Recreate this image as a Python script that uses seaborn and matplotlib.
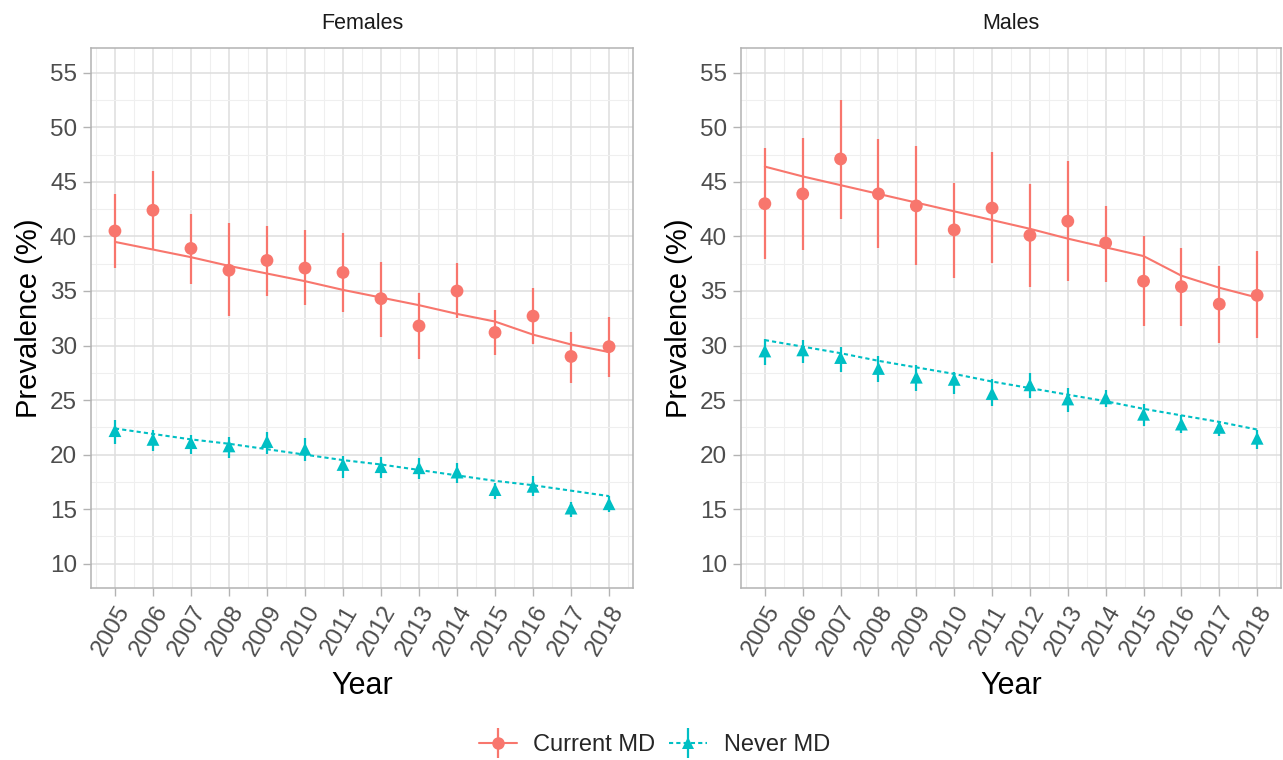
import numpy as np
import pandas as pd
import matplotlib
matplotlib.use("Agg")
import matplotlib.pyplot as plt
from matplotlib.lines import Line2D
from matplotlib.legend_handler import HandlerTuple
from matplotlib.ticker import MultipleLocator
import seaborn as sns

years = list(range(2005, 2019))

# Females
f_cur = [40.5, 42.4, 38.9, 36.9, 37.8, 37.1, 36.7, 34.3, 31.8, 35.0, 31.2, 32.7, 29.0, 29.9]
f_cur_lo = [37.1, 38.8, 35.6, 32.7, 34.5, 33.7, 33.1, 30.8, 28.8, 32.5, 29.1, 30.1, 26.6, 27.1]
f_cur_hi = [43.9, 46.0, 42.1, 41.2, 41.0, 40.6, 40.3, 37.7, 34.8, 37.6, 33.3, 35.3, 31.2, 32.6]
f_cur_fit = [39.5, 38.8, 38.1, 37.3, 36.6, 35.9, 35.1, 34.4, 33.7, 32.9, 32.2, 31.0, 30.1, 29.4]

f_nev = [22.2, 21.4, 21.1, 20.8, 21.2, 20.5, 19.1, 18.9, 18.8, 18.4, 16.8, 17.1, 15.1, 15.5]
f_nev_lo = [21.0, 20.3, 20.1, 19.7, 20.1, 19.4, 17.9, 17.9, 17.8, 17.4, 15.9, 16.2, 14.3, 14.7]
f_nev_hi = [23.2, 22.3, 21.8, 21.6, 22.1, 21.5, 19.9, 19.8, 19.7, 19.2, 17.4, 18.0, 15.7, 16.2]
f_nev_fit = [22.4, 21.9, 21.4, 21.0, 20.5, 20.0, 19.5, 19.1, 18.6, 18.1, 17.6, 17.2, 16.7, 16.2]

# Males
m_cur = [43.0, 43.9, 47.1, 43.9, 42.8, 40.6, 42.6, 40.1, 41.4, 39.4, 35.9, 35.4, 33.8, 34.6]
m_cur_lo = [37.9, 38.8, 41.6, 38.9, 37.4, 36.2, 37.6, 35.4, 35.9, 35.8, 31.8, 31.8, 30.2, 30.7]
m_cur_hi = [48.1, 49.0, 52.5, 48.9, 48.3, 44.9, 47.7, 44.8, 46.9, 42.8, 40.0, 38.9, 37.3, 38.7]
m_cur_fit = [46.4, 45.5, 44.7, 43.9, 43.1, 42.3, 41.5, 40.7, 39.8, 39.0, 38.2, 36.4, 35.3, 34.4]

m_nev = [29.5, 29.6, 28.9, 27.9, 27.1, 26.9, 25.6, 26.4, 25.1, 25.2, 23.7, 22.8, 22.5, 21.5]
m_nev_lo = [28.2, 28.4, 27.6, 26.7, 25.8, 25.6, 24.5, 25.2, 23.9, 24.4, 22.6, 22.0, 21.7, 20.5]
m_nev_hi = [30.6, 30.5, 29.9, 29.0, 28.2, 27.6, 26.9, 27.5, 26.1, 25.9, 24.6, 23.6, 23.1, 22.3]
m_nev_fit = [30.5, 29.9, 29.3, 28.6, 28.0, 27.4, 26.7, 26.1, 25.5, 24.9, 24.2, 23.6, 23.0, 22.3]

groups = ["Current MD", "Never MD"]
panels = ["Females", "Males"]
y_ticks = [10, 15, 20, 25, 30, 35, 40, 45, 50, 55]

rows = []
data_sets = {
    ("Females", "Current MD"): (f_cur, f_cur_lo, f_cur_hi, f_cur_fit),
    ("Females", "Never MD"): (f_nev, f_nev_lo, f_nev_hi, f_nev_fit),
    ("Males", "Current MD"): (m_cur, m_cur_lo, m_cur_hi, m_cur_fit),
    ("Males", "Never MD"): (m_nev, m_nev_lo, m_nev_hi, m_nev_fit),
}
for (sex, grp), (v, lo, hi, fit) in data_sets.items():
    for i, y in enumerate(years):
        rows.append(dict(sex=sex, group=grp, year=y, prev=v[i], lo=lo[i], hi=hi[i], fit=fit[i]))
df = pd.DataFrame(rows)

sns.set_theme(style="white")
plt.rcParams['font.family'] = ['Liberation Sans', 'DejaVu Sans']

colors = {"Current MD": "#F8766D", "Never MD": "#00BFC4"}
markers = {"Current MD": "o", "Never MD": "^"}
dashes = {"Current MD": "", "Never MD": (2, 1.5)}

fig = plt.figure(figsize=(12.83, 7.60), dpi=100)
ax_pos = {
    "Females": [91 / 1283, 172 / 760, 542 / 1283, 540 / 760],
    "Males": [741 / 1283, 172 / 760, 540 / 1283, 540 / 760],
}

for sex in panels:
    ax = fig.add_axes(ax_pos[sex])
    sub = df[df.sex == sex]
    # grid
    ax.set_axisbelow(True)
    ax.xaxis.set_minor_locator(MultipleLocator(0.5))
    ax.yaxis.set_minor_locator(MultipleLocator(2.5))
    ax.grid(which="major", color="#DEDEDE", linewidth=1.1)
    ax.grid(which="minor", color="#EFEFEF", linewidth=0.8)
    for grp in groups:
        g = sub[sub.group == grp]
        ax.vlines(g.year, g.lo, g.hi, color=colors[grp], linewidth=1.6, zorder=3)
    sns.lineplot(data=sub, x="year", y="fit", hue="group", style="group",
                 palette=colors, dashes=dashes, linewidth=1.5, legend=False,
                 ax=ax, zorder=4)
    sns.scatterplot(data=sub, x="year", y="prev", hue="group", style="group",
                    palette=colors, markers=markers, s=85, linewidth=0,
                    legend=False, ax=ax, zorder=5)
    ax.set_xlim(2004.37, 2018.63)
    ax.set_ylim(7.78, 57.27)
    ax.set_xticks(years)
    ax.set_xticklabels([str(y) for y in years], rotation=60, ha="right",
                       va="top", rotation_mode="anchor")
    ax.set_yticks(y_ticks)
    ax.tick_params(axis="both", which="major", labelsize=17.5, labelcolor="#4D4D4D",
                   color="#B3B3B3", length=6, width=1, bottom=True, left=True, pad=4)
    ax.tick_params(axis="both", which="minor", length=0)
    for s in ax.spines.values():
        s.set_color("#B3B3B3")
        s.set_linewidth(1.1)
    ax.set_xlabel("Year", fontsize=22, color="black", labelpad=8)
    ax.set_ylabel("Prevalence (%)", fontsize=21, color="black", labelpad=5)
    ax.set_title(sex, fontsize=15.5, color="#1A1A1A", pad=14)

handles = []
for grp in groups:
    h_line = Line2D([], [], color=colors[grp], marker=markers[grp], markersize=9,
                    markeredgewidth=0, linewidth=1.5,
                    linestyle="-" if grp == "Current MD" else (0, (2, 1.5)))
    h_bar = Line2D([], [], color=colors[grp], marker="|", markersize=22,
                   markeredgewidth=1.6, linestyle="none")
    handles.append((h_line, h_bar))
fig.legend(handles, groups, handler_map={tuple: HandlerTuple(ndivide=1)},
           loc="center", bbox_to_anchor=(0.51, 1 - 745 / 760), ncol=2,
           frameon=False, fontsize=17, handlelength=1.6, columnspacing=0.6,
           handletextpad=0.7)

fig.savefig("out.png", dpi=100)
